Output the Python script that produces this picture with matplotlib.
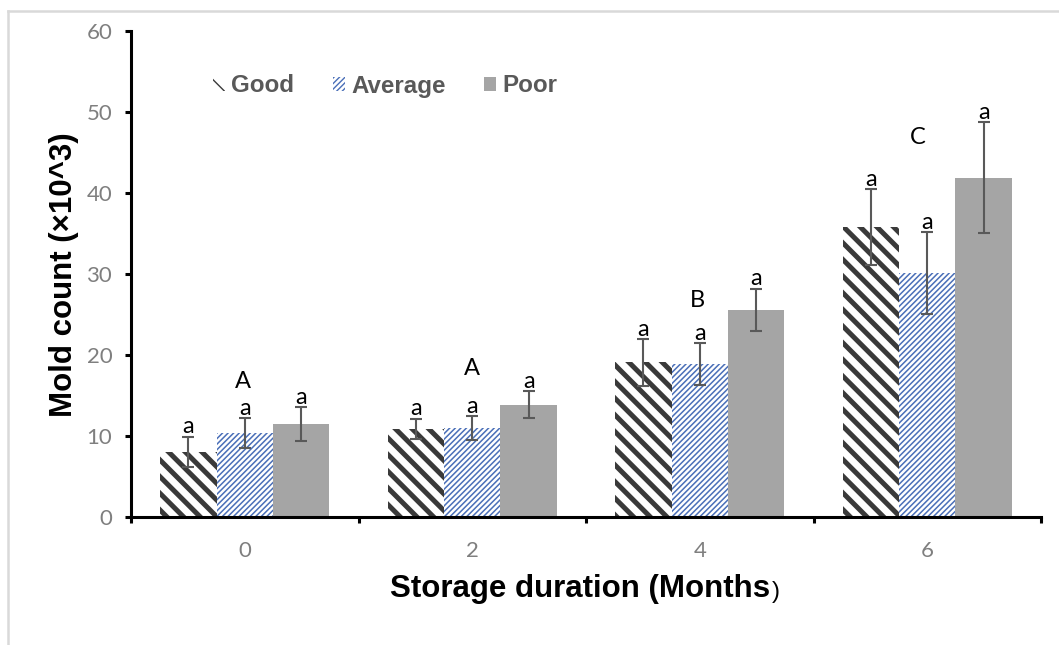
import matplotlib
matplotlib.use("Agg")
import matplotlib.pyplot as plt
import numpy as np
from matplotlib.lines import Line2D

# ---- data -------------------------------------------------------------
months = ["0", "2", "4", "6"]
series = ["Good", "Average", "Poor"]

good = [8.1, 10.9, 19.1, 35.8]
good_err = [1.85, 1.25, 2.9, 4.65]
average = [10.4, 11.0, 18.9, 30.1]
average_err = [1.8, 1.45, 2.55, 5.05]
poor = [11.5, 13.9, 25.6, 41.9]
poor_err = [2.1, 1.65, 2.6, 6.85]

bar_letters = [["a", "a", "a", "a"],
               ["a", "a", "a", "a"],
               ["a", "a", "a", "a"]]
group_letters = ["A", "A", "B", "C"]

# placement of the group letters (data units)
group_letter_y = [15.9, 17.6, 26.0, 46.1]
group_letter_dx = [-0.008, 0.0, -0.01, -0.04]

# ---- figure -----------------------------------------------------------
W, H, DPI = 1059, 645, 100
fig = plt.figure(figsize=(W / DPI, H / DPI), dpi=DPI)
ax = fig.add_axes([131 / W, (H - 517.3) / H, 910 / W, 486.3 / H])

body_font = "Lato"
title_font = "Liberation Sans"

x = np.arange(len(months))
w = 0.248

with plt.rc_context({"hatch.linewidth": 3.6}):
    b_good = ax.bar(x - w, good, w, color="white", edgecolor="#3a3a3a",
                    linewidth=0, hatch="\\\\", label=series[0], zorder=2)
with plt.rc_context({"hatch.linewidth": 1.1}):
    b_avg = ax.bar(x, average, w, color="white", edgecolor="#4a6fb8",
                   linewidth=0, hatch="//////", label=series[1], zorder=2)
b_poor = ax.bar(x + w, poor, w, color="#a5a5a5", linewidth=0,
                label=series[2], zorder=2)

err_style = dict(fmt="none", ecolor="#595959", elinewidth=1.5,
                 capsize=4.3, capthick=1.5, zorder=3)
for offs, vals, errs, letters in [(-w, good, good_err, bar_letters[0]),
                                  (0, average, average_err, bar_letters[1]),
                                  (w, poor, poor_err, bar_letters[2])]:
    ax.errorbar(x + offs, vals, yerr=errs, **err_style)
    for xi, v, e, lt in zip(x + offs, vals, errs, letters):
        ax.annotate(lt, (xi, v + e), xytext=(0, 2.5), textcoords="offset points",
                    ha="center", va="baseline", fontsize=17,
                    family=body_font, color="black", zorder=4)

for xi, lt, ly, dx in zip(x, group_letters, group_letter_y, group_letter_dx):
    ax.text(xi + dx, ly, lt, ha="center", va="baseline", fontsize=17,
            family=body_font, color="black")

# ---- axes -------------------------------------------------------------
ax.set_xlim(-0.5, len(months) - 0.5)
ax.set_ylim(0, 60)
ax.set_yticks(np.arange(0, 61, 10))
ax.set_xticks(np.arange(len(months) + 1) - 0.5)
ax.set_xticklabels([])
ax.set_xticks(x, minor=True)
ax.set_xticklabels(months, minor=True)

for s in ["top", "right"]:
    ax.spines[s].set_visible(False)
for s in ["left", "bottom"]:
    ax.spines[s].set_linewidth(2.2)
    ax.spines[s].set_color("black")

ax.tick_params(axis="both", which="major", direction="out", length=4.5,
               width=2.2, color="black")
ax.tick_params(axis="y", labelsize=16, labelcolor="#7f7f7f", pad=9)
ax.tick_params(axis="x", which="minor", length=0, labelsize=16,
               labelcolor="#7f7f7f", pad=17)
for lbl in ax.get_yticklabels() + ax.get_xticklabels(minor=True):
    lbl.set_family(body_font)

# axis titles
fig.text(64 / W, 1 - 275 / H, "Mold count (×10^3)", rotation=90,
         ha="center", va="center", fontsize=22.5, fontweight="bold",
         family=title_font, color="black")
xt = fig.text(390 / W, 1 - 597 / H, "Storage duration (Months",
              ha="left", va="baseline", fontsize=22.5, fontweight="bold",
              family=title_font, color="black")
ax.annotate(")", xy=(1, 0), xycoords=xt, xytext=(1, 4.0),
            textcoords="offset points", ha="left", va="baseline",
            fontsize=17.5, family=title_font, color="black",
            annotation_clip=False)

# legend
leg = ax.legend(handles=[b_good, b_avg, b_poor], loc="center left",
                bbox_to_anchor=(213 / W, 1 - 86 / H),
                bbox_transform=fig.transFigure, ncol=3, frameon=False,
                borderpad=0, borderaxespad=0, handlelength=0.5,
                handleheight=0.5, handletextpad=0.25, columnspacing=1.6,
                prop={"family": title_font, "weight": "bold", "size": 17.4},
                labelcolor="#595959")

# light frame around the chart area
fig.add_artist(Line2D([8 / W, 1], [1 - 10.5 / H] * 2,
                      transform=fig.transFigure, color="#d9d9d9", lw=1.8))
fig.add_artist(Line2D([8.3 / W] * 2, [0, 1 - 10.5 / H],
                      transform=fig.transFigure, color="#d9d9d9", lw=1.8))

fig.savefig("out.png", dpi=DPI)
